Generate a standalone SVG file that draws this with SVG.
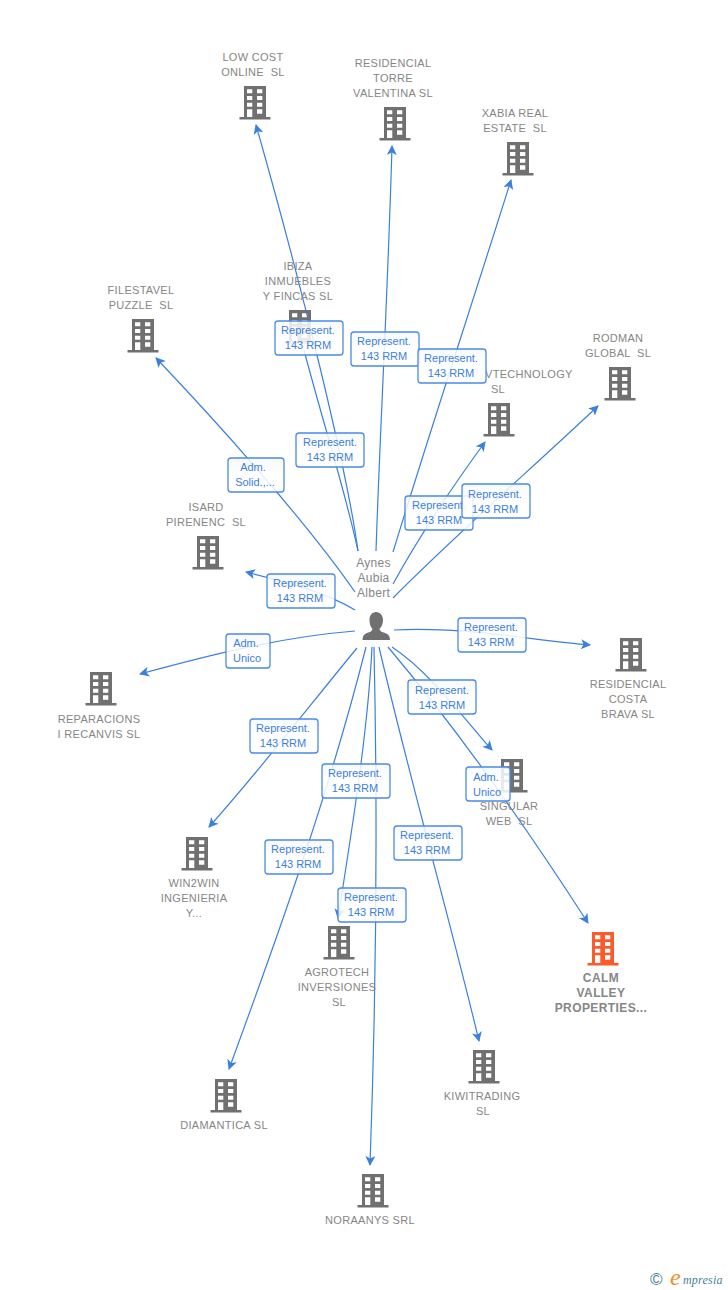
<svg xmlns="http://www.w3.org/2000/svg" width="728" height="1290" viewBox="0 0 728 1290">
<style>
.e{fill:none;stroke:#3b80e0;stroke-width:1.2;marker-end:url(#a)}
.n{fill:none;stroke:#3b80e0;stroke-width:1.2}
.b{fill:url(#g);fill-opacity:.86;stroke:#4a8be4;stroke-width:1.3}
.bt{font:11px "Liberation Sans",Arial,sans-serif;fill:#3b80e0;text-anchor:middle}
.t{font:11px "Liberation Sans",Arial,sans-serif;fill:#868686;text-anchor:middle;letter-spacing:.3px;white-space:pre}
.tb{font:bold 12px "Liberation Sans",Arial,sans-serif;fill:#868686;text-anchor:middle;letter-spacing:.4px}
.p{font:12px "Liberation Sans",Arial,sans-serif;fill:#868686;text-anchor:middle;letter-spacing:.3px}
.i{fill:#707070}
.o{fill:#fb5a2b}
</style>
<defs>
<linearGradient id="g" x1="0" y1="0" x2="0" y2="1"><stop offset="0" stop-color="#f6f8fb"/><stop offset=".5" stop-color="#fff"/><stop offset="1" stop-color="#fff"/></linearGradient>
<marker id="a" markerUnits="userSpaceOnUse" markerWidth="12" markerHeight="12" refX="9" refY="5" orient="auto"><path d="M0 0L10 5L0 10L2.500 5Z" fill="#3b80e0"/></marker>
<symbol id="bld" viewBox="0 0 32 34" overflow="visible">
<path fill-rule="evenodd" d="M5 0H27V31H31.500V33.500H.5V31H5ZM8 3.300V7.300H13.300V3.300ZM18 3.300V7.300H23.300V3.300ZM8 10V14H13.300V10ZM18 10V14H23.300V10ZM8 16.700V20.700H13.300V16.700ZM18 16.700V20.700H23.300V16.700ZM8 23.300V31H13.300V23.300ZM18 23.300V27.700H23.300V23.300Z"/>
</symbol>
</defs>

<g id="connectors">
<path class="e" d="M358 551C347 470 303 290 256 125"/>
<path class="n" d="M358 551C345 490 325 430 304 350"/>
<path class="e" d="M376 551C380 430 388 290 392 146"/>
<path class="e" d="M393 552C435 415 475 295 511 180"/>
<path class="e" d="M393 584C420 535 450 490 485 442"/>
<path class="e" d="M393 598C450 540 530 470 598 406"/>
<path class="e" d="M355 592C312 530 234 440 156 358"/>
<path class="e" d="M355 610C325 592 290 583 246 572"/>
<path class="e" d="M355 631C280 637 210 655 140 674"/>
<path class="e" d="M394 630C460 626 530 640 590 645"/>
<path class="e" d="M392 647C430 672 465 720 492 750"/>
<path class="e" d="M388 647C458 730 528 830 588 923"/>
<path class="e" d="M357 648C310 705 260 770 209 827"/>
<path class="e" d="M372 647C368 730 352 830 338 918"/>
<path class="e" d="M366 647C330 790 280 930 229 1069"/>
<path class="e" d="M374 647C378 830 376 1000 370 1165"/>
<path class="e" d="M379 647C410 780 450 920 479 1041"/>
</g>

<g id="n1" class="i"><use href="#bld" x="239" y="86" width="32" height="34"/><text class="t" x="253" y="61">LOW COST</text><text class="t" x="253" y="76">ONLINE  SL</text></g>
<g id="n2" class="i"><use href="#bld" x="379" y="107" width="32" height="34"/><text class="t" x="393" y="67">RESIDENCIAL</text><text class="t" x="393" y="82">TORRE</text><text class="t" x="393" y="97">VALENTINA SL</text></g>
<g id="n3" class="i"><use href="#bld" x="502" y="142" width="32" height="34"/><text class="t" x="515" y="117">XABIA REAL</text><text class="t" x="515" y="132">ESTATE  SL</text></g>
<g id="n4" class="i"><use href="#bld" x="127" y="319" width="32" height="34"/><text class="t" x="141" y="294">FILESTAVEL</text><text class="t" x="141" y="309">PUZZLE  SL</text></g>
<g id="n5" class="i"><use href="#bld" x="284" y="310" width="32" height="34"/><text class="t" x="298" y="270">IBIZA</text><text class="t" x="298" y="285">INMUEBLES</text><text class="t" x="298" y="300">Y FINCAS SL</text></g>
<g id="n6" class="i"><use href="#bld" x="483" y="403" width="32" height="34"/><text class="t" x="498" y="378" style="text-anchor:start" dx="-13">VTECHNOLOGY</text><text class="t" x="498" y="393">SL</text></g>
<g id="n7" class="i"><use href="#bld" x="604" y="367" width="32" height="34"/><text class="t" x="618" y="342">RODMAN</text><text class="t" x="618" y="357">GLOBAL  SL</text></g>
<g id="n8" class="i"><use href="#bld" x="192" y="536" width="32" height="34"/><text class="t" x="206" y="511">ISARD</text><text class="t" x="206" y="526">PIRENENC  SL</text></g>
<g id="n9" class="i"><use href="#bld" x="85" y="672" width="32" height="34"/><text class="t" x="99" y="723">REPARACIONS</text><text class="t" x="99" y="738">I RECANVIS SL</text></g>
<g id="n10" class="i"><use href="#bld" x="615" y="638" width="32" height="34"/><text class="t" x="628" y="688">RESIDENCIAL</text><text class="t" x="628" y="703">COSTA</text><text class="t" x="628" y="718">BRAVA SL</text></g>
<g id="n11" class="i"><use href="#bld" x="496" y="759" width="32" height="34"/><text class="t" x="509" y="810">SINGULAR</text><text class="t" x="509" y="825">WEB  SL</text></g>
<g id="n12" class="i"><use href="#bld" x="181" y="837" width="32" height="34"/><text class="t" x="194" y="887">WIN2WIN</text><text class="t" x="194" y="902">INGENIERIA</text><text class="t" x="194" y="917">Y...</text></g>
<g id="n13" class="i"><use href="#bld" x="323" y="926" width="32" height="34"/><text class="t" x="337" y="976">AGROTECH</text><text class="t" x="337" y="991">INVERSIONES</text><text class="t" x="339" y="1006">SL</text></g>
<g id="n14" class="o"><use href="#bld" x="587" y="932" width="32" height="34"/><text class="tb" x="601" y="982">CALM</text><text class="tb" x="601" y="997">VALLEY</text><text class="tb" x="601" y="1012">PROPERTIES...</text></g>
<g id="n15" class="i"><use href="#bld" x="210" y="1079" width="32" height="34"/><text class="t" x="224" y="1129">DIAMANTICA SL</text></g>
<g id="n16" class="i"><use href="#bld" x="468" y="1050" width="32" height="34"/><text class="t" x="482" y="1100">KIWITRADING</text><text class="t" x="483" y="1115">SL</text></g>
<g id="n17" class="i"><use href="#bld" x="357" y="1174" width="32" height="34"/><text class="t" x="370" y="1224">NORAANYS SRL</text></g>

<g id="person">
<path class="i" d="M376 612C371.500 612 369.500 616 369.500 620C369.500 624 370.500 627 372.500 629C372.500 631 370 632 367 633C364 634 362.500 636 362.500 640H390C390 636 388 634 385 633C382 632 379.500 631 379.500 629C381.500 627 383 624 383 620C383 616 380.500 612 376 612Z"/>
<text class="p" x="373.500" y="567">Aynes</text><text class="p" x="373.500" y="582">Aubia</text><text class="p" x="373.500" y="597">Albert</text>
</g>

<g id="labels">
<g id="l1"><rect class="b" x="275" y="321" width="68" height="34" rx="3"/><text class="bt" x="308" y="334">Represent.</text><text class="bt" x="308" y="349">143 RRM</text></g>
<g id="l2"><rect class="b" x="351" y="332" width="68" height="34" rx="3"/><text class="bt" x="384" y="345">Represent.</text><text class="bt" x="384" y="360">143 RRM</text></g>
<g id="l3"><rect class="b" x="418" y="349" width="68" height="34" rx="3"/><text class="bt" x="451" y="362">Represent.</text><text class="bt" x="451" y="377">143 RRM</text></g>
<g id="l4"><rect class="b" x="296" y="433" width="68" height="34" rx="3"/><text class="bt" x="330" y="446">Represent.</text><text class="bt" x="330" y="461">143 RRM</text></g>
<g id="l5"><rect class="b" x="228" y="458" width="56" height="34" rx="3"/><text class="bt" x="253" y="471">Adm.</text><text class="bt" x="255" y="486">Solid.,...</text></g>
<g id="l6"><rect class="b" x="405" y="496" width="68" height="34" rx="3"/><text class="bt" x="439" y="509">Represent.</text><text class="bt" x="439" y="524">143 RRM</text></g>
<g id="l7"><rect class="b" x="462" y="484" width="68" height="34" rx="3"/><text class="bt" x="495" y="498">Represent.</text><text class="bt" x="495" y="513">143 RRM</text></g>
<g id="l8"><rect class="b" x="267" y="574" width="68" height="34" rx="3"/><text class="bt" x="300" y="587">Represent.</text><text class="bt" x="300" y="602">143 RRM</text></g>
<g id="l9"><rect class="b" x="226" y="634" width="44" height="34" rx="3"/><text class="bt" x="246" y="647">Adm.</text><text class="bt" x="247" y="662">Unico</text></g>
<g id="l10"><rect class="b" x="458" y="618" width="68" height="34" rx="3"/><text class="bt" x="491" y="631">Represent.</text><text class="bt" x="491" y="646">143 RRM</text></g>
<g id="l11"><rect class="b" x="408" y="680" width="68" height="34" rx="3"/><text class="bt" x="442" y="694">Represent.</text><text class="bt" x="442" y="709">143 RRM</text></g>
<g id="l12"><rect class="b" x="466" y="767" width="44" height="34" rx="3"/><text class="bt" x="486" y="781">Adm.</text><text class="bt" x="487" y="796">Unico</text></g>
<g id="l13"><rect class="b" x="250" y="719" width="68" height="34" rx="3"/><text class="bt" x="283" y="732">Represent.</text><text class="bt" x="283" y="747">143 RRM</text></g>
<g id="l14"><rect class="b" x="322" y="764" width="68" height="34" rx="3"/><text class="bt" x="355" y="777">Represent.</text><text class="bt" x="355" y="792">143 RRM</text></g>
<g id="l15"><rect class="b" x="265" y="840" width="68" height="34" rx="3"/><text class="bt" x="298" y="853">Represent.</text><text class="bt" x="298" y="868">143 RRM</text></g>
<g id="l16"><rect class="b" x="394" y="826" width="68" height="34" rx="3"/><text class="bt" x="427" y="839">Represent.</text><text class="bt" x="427" y="854">143 RRM</text></g>
<g id="l17"><rect class="b" x="338" y="888" width="68" height="34" rx="3"/><text class="bt" x="371" y="901">Represent.</text><text class="bt" x="371" y="916">143 RRM</text></g>
</g>

<g id="logo">
<text x="650" y="1285" font-family="'Liberation Sans',sans-serif" font-size="17" fill="#4a7f96">©</text>
<text x="670" y="1285" font-family="'Liberation Serif',serif" font-style="italic" font-size="24" fill="#f08a24">e</text>
<text x="683" y="1284" font-family="'Liberation Serif',serif" font-style="italic" font-size="12" fill="#4a7f96" letter-spacing=".2">mpresia</text>
</g>
</svg>
